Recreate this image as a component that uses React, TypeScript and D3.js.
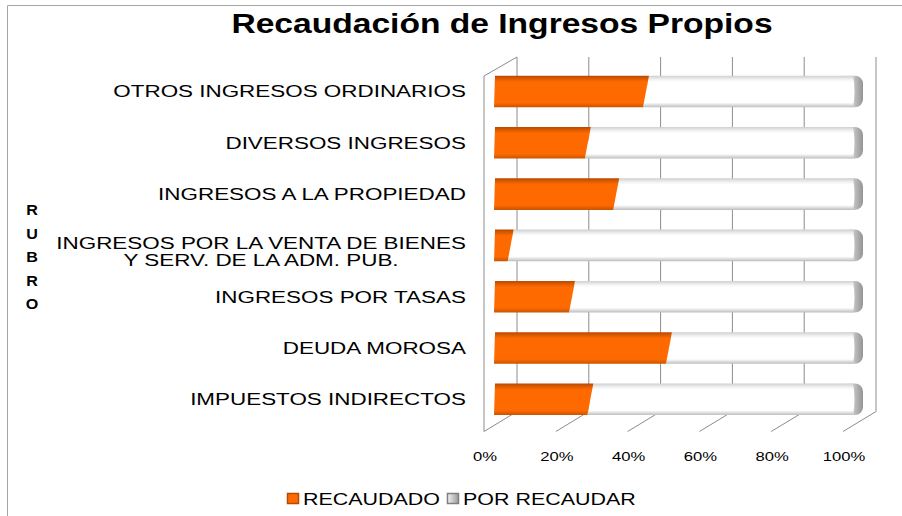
import React, { useRef, useEffect } from "react";
import * as d3 from "d3";

// categories top -> bottom, as in the picture
const categories = [
  "OTROS INGRESOS ORDINARIOS",
  "DIVERSOS INGRESOS",
  "INGRESOS A LA PROPIEDAD",
  "INGRESOS POR LA VENTA DE BIENES\nY SERV. DE LA ADM. PUB.",
  "INGRESOS POR TASAS",
  "DEUDA MOROSA",
  "IMPUESTOS INDIRECTOS",
];
const recaudado = [0.415, 0.253, 0.332, 0.038, 0.209, 0.479, 0.26];
const porRecaudar = [0.585, 0.747, 0.668, 0.962, 0.791, 0.521, 0.74];
const ticks = [0, 0.2, 0.4, 0.6, 0.8, 1];
const tickLabels = ["0%", "20%", "40%", "60%", "80%", "100%"];
const legendLabels = ["RECAUDADO", "POR RECAUDAR"];
const axisTitle = ["R", "U", "B", "R", "O"];
const title = "Recaudación de Ingresos Propios";

const FONT = "'Liberation Sans', Arial, sans-serif";

function App() {
  const svgRef = useRef(null);
  const width = 902;
  const height = 516;

  useEffect(() => {
    const svg = d3.select(svgRef.current);
    svg.selectAll("*").remove();

    const SX = 1.32; // text in the picture is stretched horizontally
    const gridColor = "#8c8c8c";

    // 3d box: back wall, front plane and floor
    const xBack = d3.scaleLinear().domain([0, 1]).range([517, 876]);
    const xFront = d3.scaleLinear().domain([0, 1]).range([484, 843]);
    const xBar = d3.scaleLinear().domain([0, 1]).range([494, 853]);
    const backTop = 57;
    const backBottom = 411.5;
    const frontBottom = 431.5;
    const frontTop = 76;

    const y = d3
      .scaleBand()
      .domain(categories)
      .range([65.85, 424.95])
      .paddingInner(0.384)
      .paddingOuter(0.192);

    const defs = svg.append("defs");
    const grad = (id, horizontal, stops) => {
      const g = defs
        .append("linearGradient")
        .attr("id", id)
        .attr("x1", 0)
        .attr("y1", 0)
        .attr("x2", horizontal ? 1 : 0)
        .attr("y2", horizontal ? 0 : 1);
      stops.forEach(([o, c]) => g.append("stop").attr("offset", o).attr("stop-color", c));
    };
    grad("orange", false, [
      [0, "#b84a00"],
      [0.13, "#e86000"],
      [0.2, "#ff6a00"],
      [0.85, "#ff6a00"],
      [1, "#c85400"],
    ]);
    grad("white", false, [
      [0, "#cfcfcf"],
      [0.12, "#f2f2f2"],
      [0.2, "#ffffff"],
      [0.85, "#ffffff"],
      [1, "#bdbdbd"],
    ]);
    grad("cap", true, [
      [0, "#ffffff"],
      [0.4, "#f4f4f4"],
      [0.7, "#bcbcbc"],
      [1, "#949494"],
    ]);
    grad("legGrey", true, [
      [0, "#f4f4f4"],
      [1, "#9a9a9a"],
    ]);

    // chart area border (top + left only visible)
    svg
      .append("path")
      .attr("d", "M7.5,530 L7.5,5.5 L910,5.5")
      .attr("fill", "none")
      .attr("stroke", "#a6a6a6");

    // back wall gridlines
    svg
      .selectAll("line.grid")
      .data(ticks)
      .enter()
      .append("line")
      .attr("class", "grid")
      .attr("x1", (d) => xBack(d))
      .attr("x2", (d) => xBack(d))
      .attr("y1", backTop)
      .attr("y2", backBottom)
      .attr("stroke", gridColor);

    // floor lines
    svg
      .selectAll("line.floor")
      .data(ticks)
      .enter()
      .append("line")
      .attr("class", "floor")
      .attr("x1", (d) => xBack(d))
      .attr("x2", (d) => xFront(d))
      .attr("y1", backBottom)
      .attr("y2", frontBottom)
      .attr("stroke", gridColor);

    // left side wall
    svg
      .append("path")
      .attr(
        "d",
        `M${xBack(0)},${backTop} L${xFront(0)},${frontTop} L${xFront(0)},${frontBottom}`
      )
      .attr("fill", "none")
      .attr("stroke", gridColor);

    // bars
    const bh = y.bandwidth();
    const slant = 6;
    categories.forEach((c, i) => {
      const tot = recaudado[i] + porRecaudar[i];
      const v = recaudado[i] / tot;
      const top = y(c);
      const bot = top + bh;
      const x0 = xBar(0);
      const xv = xBar(v);
      const x1 = xBar(1);
      const g = svg.append("g");

      // rounded end cap
      g.append("rect")
        .attr("x", x1 - 16)
        .attr("y", top)
        .attr("width", 26)
        .attr("height", bh)
        .attr("rx", 8)
        .attr("fill", "url(#cap)");

      g.append("path")
        .attr(
          "d",
          `M${xv + slant},${top} L${x1},${top} Q${x1 + 3},${top + bh / 2} ${x1},${bot} L${xv},${bot} Z`
        )
        .attr("fill", "url(#white)");

      g.append("path")
        .attr(
          "d",
          `M${x0 + 1},${top} L${xv + slant},${top} L${xv},${bot} L${x0},${bot} Z`
        )
        .attr("fill", "url(#orange)");
    });

    // category labels
    const labelRight = 466;
    categories.forEach((c) => {
      const lines = c.split("\n");
      const cy = y(c) + bh / 2 - (lines.length > 1 ? 2 : 0);
      const texts = lines.map((line) =>
        svg
          .append("text")
          .attr("font-family", FONT)
          .attr("font-size", 17)
          .attr("fill", "#000")
          .attr("text-anchor", "middle")
          .attr("dy", "0.35em")
          .text(line)
      );
      const maxW = d3.max(texts, (t) => t.node().getComputedTextLength());
      const cx = labelRight - (maxW * SX) / 2;
      texts.forEach((t, j) =>
        t.attr("transform", `translate(${cx},${cy + j * 17}) scale(${SX},1)`)
      );
    });

    // tick labels
    svg
      .selectAll("text.tick")
      .data(ticks)
      .enter()
      .append("text")
      .attr("class", "tick")
      .attr("font-family", FONT)
      .attr("font-size", 13)
      .attr("text-anchor", "middle")
      .attr("dy", "0.35em")
      .attr("transform", (d) => `translate(${xFront(d) + 1},456) scale(1.28,1)`)
      .text((d, i) => tickLabels[i]);

    // axis title (vertical letters)
    svg
      .selectAll("text.rubro")
      .data(axisTitle)
      .enter()
      .append("text")
      .attr("class", "rubro")
      .attr("font-family", FONT)
      .attr("font-weight", "bold")
      .attr("font-size", 14)
      .attr("text-anchor", "middle")
      .attr("transform", (d, i) => `translate(32,${215 + i * 23.5}) scale(1.15,1)`)
      .text((d) => d);

    // title
    svg
      .append("text")
      .attr("font-family", FONT)
      .attr("font-weight", "bold")
      .attr("font-size", 28)
      .attr("text-anchor", "middle")
      .attr("transform", `translate(502,33) scale(1.2,1)`)
      .text(title);

    // legend
    const legY = 499;
    let lx = 287;
    const fills = ["#ff6a00", "url(#legGrey)"];
    const strokes = ["#b84a00", "#7f7f7f"];
    legendLabels.forEach((lab, i) => {
      svg
        .append("rect")
        .attr("x", lx + 0.5)
        .attr("y", legY - 5.5)
        .attr("width", 11)
        .attr("height", 10)
        .attr("fill", fills[i])
        .attr("stroke", strokes[i])
        .attr("stroke-width", 1.5);
      const t = svg
        .append("text")
        .attr("font-family", FONT)
        .attr("font-size", 16.5)
        .attr("dy", "0.35em")
        .attr("transform", `translate(${lx + 16},${legY}) scale(1.3,1)`)
        .text(lab);
      lx = lx + 16 + t.node().getComputedTextLength() * 1.3 + 7;
    });
  }, []);

  return (
    <svg
      ref={svgRef}
      width={width}
      height={height}
      style={{ position: "absolute", left: 0, top: 0, background: "#fff" }}
    ></svg>
  );
}

export default App;
